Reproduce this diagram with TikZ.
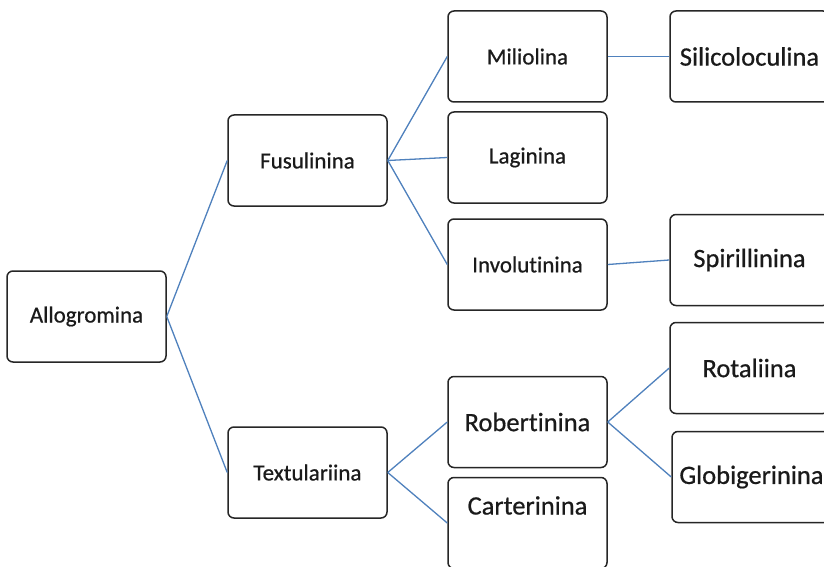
\documentclass[tikz,border=0pt]{standalone}
\usepackage{fontspec}
\setmainfont{Carlito}[Ligatures={NoCommon}, FakeBold=0.6]
\definecolor{linkblue}{HTML}{4F81BD}
\definecolor{boxline}{HTML}{262626}
\definecolor{txt}{HTML}{1A1A1A}
\begin{document}
\begin{tikzpicture}[x=1pt,y=-1pt,
  taxbox/.style={draw=boxline, line width=1.5pt, rounded corners=6pt,
    minimum width=159pt, minimum height=91pt, inner sep=0pt,
    text=txt, font=\fontsize{23}{27}\selectfont},
  bigtxt/.style={font=\fontsize{26.5}{30}\selectfont},
  link/.style={draw=linkblue, line width=1.3pt}]
\useasboundingbox (0,0) rectangle (824,567);
\clip (0,0) rectangle (824,567);
\fill[white] (0,0) rectangle (824,567);

\node[taxbox] (allo) at (86.5,316.5) {Allogromina};
\node[taxbox] (fus) at (307.5,160.5) {Fusulinina};
\node[taxbox] (tex) at (307.5,472.5) {Textulariina};
\node[taxbox] (mil) at (527.5,56.5) {Miliolina};
\node[taxbox] (lag) at (527.5,157.5) {Laginina};
\node[taxbox] (inv) at (527.5,264.5) {Involutinina};
\node[taxbox,bigtxt] (rob) at (527.5,422) {Robertinina};
\node[taxbox,bigtxt,text height=17pt,text depth=34pt] (car) at (527.5,523) {Carterinina};
\node[taxbox,bigtxt] (sil) at (749.5,56.5) {Silicoloculina};
\node[taxbox,bigtxt] (spi) at (749.5,260) {Spirillinina};
\node[taxbox,bigtxt] (rot) at (749.5,368) {Rotaliina};
\node[taxbox,bigtxt] (glo) at (751.5,477) {Globigerinina};

\draw[link] (allo.east) -- (fus.west);
\draw[link] (allo.east) -- (tex.west);
\draw[link] (fus.east) -- (mil.west);
\draw[link] (fus.east) -- (lag.west);
\draw[link] (fus.east) -- (inv.west);
\draw[link] (mil.east) -- (sil.west);
\draw[link] (inv.east) -- (spi.west);
\draw[link] (tex.east) -- (rob.west);
\draw[link] (tex.east) -- (car.west);
\draw[link] (rob.east) -- (rot.west);
\draw[link] (rob.east) -- (glo.west);
\end{tikzpicture}
\end{document}
